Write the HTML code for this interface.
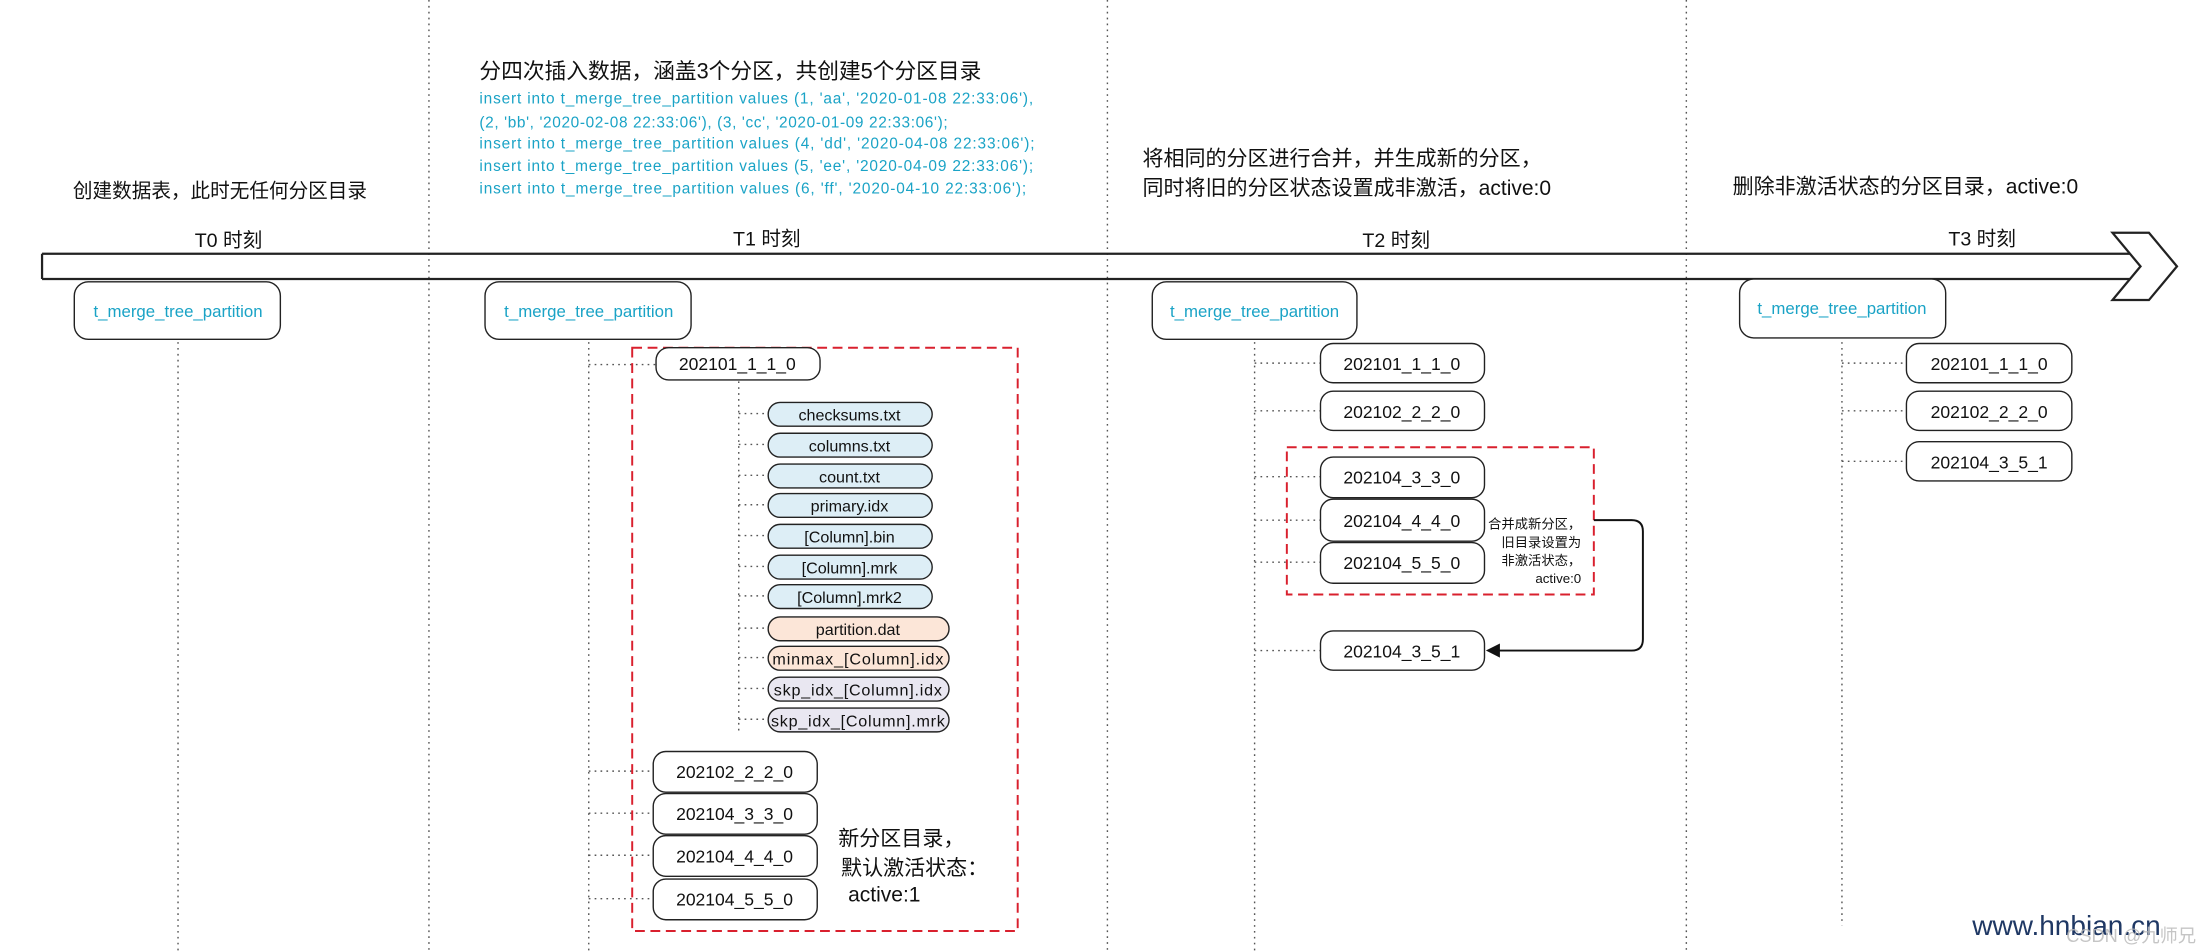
<!DOCTYPE html>
<html><head><meta charset="utf-8"><style>
html,body{margin:0;padding:0;background:#fff;}
svg{display:block;}
text{font-family:"Liberation Sans","Noto Sans CJK SC",sans-serif;}
</style></head><body>
<svg width="2198" height="952" viewBox="0 0 1568 679" preserveAspectRatio="none" xmlns="http://www.w3.org/2000/svg">
<rect width="1568" height="679" fill="#fff"/>
<g stroke="#555" stroke-width="1" stroke-dasharray="1.2,3" fill="none">
<line x1="306" y1="0" x2="306" y2="679"/>
<line x1="790" y1="0" x2="790" y2="679"/>
<line x1="1203" y1="0" x2="1203" y2="679"/>
<line x1="127" y1="244" x2="127" y2="679"/>
<line x1="420" y1="244" x2="420" y2="679"/>
<line x1="895" y1="244" x2="895" y2="679"/>
<line x1="1314" y1="244" x2="1314" y2="660"/>
<line x1="527" y1="272" x2="527" y2="522"/>
<line x1="420" y1="260" x2="468" y2="260"/>
<line x1="420" y1="550" x2="466" y2="550"/>
<line x1="420" y1="580" x2="466" y2="580"/>
<line x1="420" y1="610" x2="466" y2="610"/>
<line x1="420" y1="641" x2="466" y2="641"/>
<line x1="527" y1="295" x2="548" y2="295"/>
<line x1="527" y1="317" x2="548" y2="317"/>
<line x1="527" y1="339" x2="548" y2="339"/>
<line x1="527" y1="360" x2="548" y2="360"/>
<line x1="527" y1="382" x2="548" y2="382"/>
<line x1="527" y1="404" x2="548" y2="404"/>
<line x1="527" y1="425" x2="548" y2="425"/>
<line x1="527" y1="448" x2="548" y2="448"/>
<line x1="527" y1="469" x2="548" y2="469"/>
<line x1="527" y1="491" x2="548" y2="491"/>
<line x1="527" y1="513" x2="548" y2="513"/>
<line x1="895" y1="259" x2="942" y2="259"/>
<line x1="895" y1="293" x2="942" y2="293"/>
<line x1="895" y1="340" x2="942" y2="340"/>
<line x1="895" y1="371" x2="942" y2="371"/>
<line x1="895" y1="401" x2="942" y2="401"/>
<line x1="895" y1="464" x2="942" y2="464"/>
<line x1="1314" y1="259" x2="1360" y2="259"/>
<line x1="1314" y1="293" x2="1360" y2="293"/>
<line x1="1314" y1="329" x2="1360" y2="329"/>
</g>
<path d="M30,181 H1524 M30,199 H1524 M30,181 V199" stroke="#222" stroke-width="1.6" fill="none"/>
<path d="M1507,166 H1533 L1553,190 L1533,214 H1507 L1527,190 Z" fill="#fff" stroke="#222" stroke-width="1.6"/>
<g font-size="14" fill="#111" text-anchor="middle">
<text x="163" y="176">T0 时刻</text>
<text x="547" y="175">T1 时刻</text>
<text x="996" y="176">T2 时刻</text>
<text x="1414" y="175">T3 时刻</text>
</g>
<g font-size="14" fill="#111">
<text x="52" y="141">创建数据表，此时无任何分区目录</text>
<text x="342" y="56" font-size="15.5">分四次插入数据，涵盖3个分区，共创建5个分区目录</text>
<text x="815" y="118" font-size="15">将相同的分区进行合并，并生成新的分区，</text>
<text x="815" y="139" font-size="15">同时将旧的分区状态设置成非激活，active:0</text>
<text x="1236" y="138" font-size="15">删除非激活状态的分区目录，active:0</text>
<text x="598" y="603" font-size="15">新分区目录，</text>
<text x="600" y="624" font-size="15">默认激活状态：</text>
<text x="605" y="643" font-size="15">active:1</text>
</g>
<g font-size="11" fill="#1aa3c6">
<text x="342" y="74" textLength="395">insert into t_merge_tree_partition values (1, 'aa', '2020-01-08 22:33:06'),</text>
<text x="342" y="91" textLength="334">(2, 'bb', '2020-02-08 22:33:06'), (3, 'cc', '2020-01-09 22:33:06');</text>
<text x="342" y="106" textLength="396">insert into t_merge_tree_partition values (4, 'dd', '2020-04-08 22:33:06');</text>
<text x="342" y="122" textLength="395">insert into t_merge_tree_partition values (5, 'ee', '2020-04-09 22:33:06');</text>
<text x="342" y="138" textLength="390">insert into t_merge_tree_partition values (6, 'ff', '2020-04-10 22:33:06');</text>
</g>
<g fill="#fff" stroke="#222" stroke-width="1">
<rect x="53" y="201" width="147" height="41" rx="10"/>
<rect x="346" y="201" width="147" height="41" rx="10"/>
<rect x="822" y="201" width="146" height="41" rx="10"/>
<rect x="1241" y="199" width="147" height="42" rx="10"/>
</g>
<g font-size="12" fill="#1aa3c6" text-anchor="middle">
<text x="127" y="226">t_merge_tree_partition</text>
<text x="420" y="226">t_merge_tree_partition</text>
<text x="895" y="226">t_merge_tree_partition</text>
<text x="1314" y="224">t_merge_tree_partition</text>
</g>
<rect x="451" y="248" width="275" height="416" fill="none" stroke="#d9202e" stroke-width="1.4" stroke-dasharray="7,4"/>
<rect x="918" y="319" width="219" height="105" fill="none" stroke="#d9202e" stroke-width="1.4" stroke-dasharray="7,4"/>
<g fill="#fff" stroke="#222" stroke-width="1">
<rect x="468" y="248" width="117" height="23" rx="9"/>
<rect x="466" y="536" width="117" height="29" rx="9"/>
<rect x="466" y="566" width="117" height="29" rx="9"/>
<rect x="466" y="596" width="117" height="29" rx="9"/>
<rect x="466" y="627" width="117" height="29" rx="9"/>
<rect x="942" y="245" width="117" height="28" rx="9"/>
<rect x="942" y="279" width="117" height="28" rx="9"/>
<rect x="942" y="326" width="117" height="29" rx="9"/>
<rect x="942" y="356" width="117" height="30" rx="9"/>
<rect x="942" y="387" width="117" height="29" rx="9"/>
<rect x="942" y="450" width="117" height="28" rx="9"/>
<rect x="1360" y="245" width="118" height="28" rx="9"/>
<rect x="1360" y="279" width="118" height="28" rx="9"/>
<rect x="1360" y="315" width="118" height="28" rx="9"/>
</g>
<g font-size="12.5" fill="#111" text-anchor="middle">
<text x="526" y="264">202101_1_1_0</text>
<text x="524" y="555">202102_2_2_0</text>
<text x="524" y="585">202104_3_3_0</text>
<text x="524" y="615">202104_4_4_0</text>
<text x="524" y="646">202104_5_5_0</text>
<text x="1000" y="264">202101_1_1_0</text>
<text x="1000" y="298">202102_2_2_0</text>
<text x="1000" y="345">202104_3_3_0</text>
<text x="1000" y="376">202104_4_4_0</text>
<text x="1000" y="406">202104_5_5_0</text>
<text x="1000" y="469">202104_3_5_1</text>
<text x="1419" y="264">202101_1_1_0</text>
<text x="1419" y="298">202102_2_2_0</text>
<text x="1419" y="334">202104_3_5_1</text>
</g>
<g stroke="#222" stroke-width="1">
<rect x="548" y="287" width="117" height="17" rx="8.5" fill="#ddeef6"/>
<rect x="548" y="309" width="117" height="17" rx="8.5" fill="#ddeef6"/>
<rect x="548" y="331" width="117" height="17" rx="8.5" fill="#ddeef6"/>
<rect x="548" y="352" width="117" height="17" rx="8.5" fill="#ddeef6"/>
<rect x="548" y="374" width="117" height="17" rx="8.5" fill="#ddeef6"/>
<rect x="548" y="396" width="117" height="17" rx="8.5" fill="#ddeef6"/>
<rect x="548" y="417" width="117" height="17" rx="8.5" fill="#ddeef6"/>
<rect x="548" y="440" width="129" height="17" rx="8.5" fill="#fce6d8"/>
<rect x="548" y="461" width="129" height="17" rx="8.5" fill="#fce6d8"/>
<rect x="548" y="483" width="129" height="17" rx="8.5" fill="#e9e7f1"/>
<rect x="548" y="505" width="129" height="17" rx="8.5" fill="#e9e7f1"/>
</g>
<g font-size="11.5" fill="#111" text-anchor="middle">
<text x="606" y="300">checksums.txt</text>
<text x="606" y="322">columns.txt</text>
<text x="606" y="344">count.txt</text>
<text x="606" y="365">primary.idx</text>
<text x="606" y="387">[Column].bin</text>
<text x="606" y="409">[Column].mrk</text>
<text x="606" y="430">[Column].mrk2</text>
<text x="612" y="453">partition.dat</text>
<text x="612" y="474" textLength="122">minmax_[Column].idx</text>
<text x="612" y="496" textLength="120">skp_idx_[Column].idx</text>
<text x="612" y="518" textLength="124">skp_idx_[Column].mrk</text>
</g>
<g font-size="9.5" fill="#111" text-anchor="end">
<text x="1128" y="377">合并成新分区，</text>
<text x="1128" y="390">旧目录设置为</text>
<text x="1128" y="403">非激活状态，</text>
<text x="1128" y="416">active:0</text>
</g>
<path d="M1137,371 H1164 Q1172,371 1172,379 V456 Q1172,464 1164,464 H1068" fill="none" stroke="#111" stroke-width="1.4"/>
<path d="M1060,464 L1070,459 L1070,469 Z" fill="#111"/>
<text x="1407" y="667" font-size="20" fill="#1f3864">www.hnbian.cn</text>
<text x="1474" y="672" font-size="13" fill="#bbb" opacity="0.85">CSDN @九师兄</text>
</svg>
</body></html>
